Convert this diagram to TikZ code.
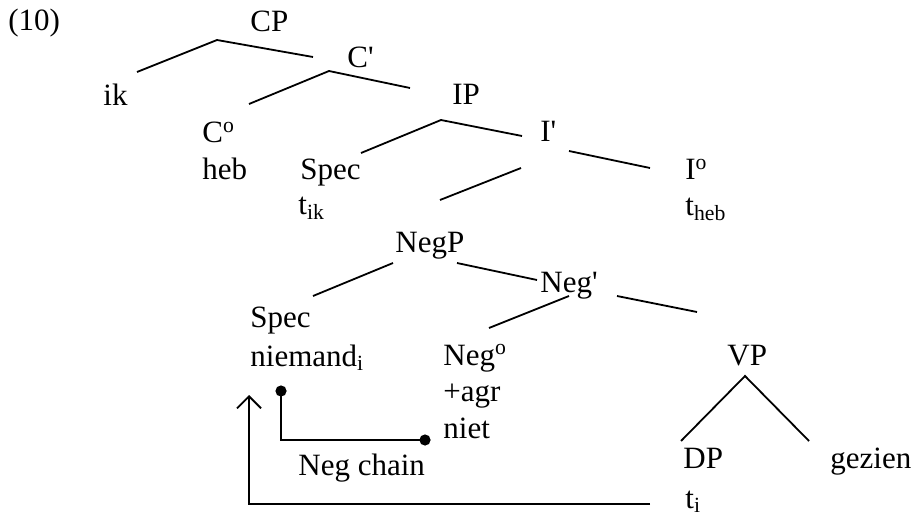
\documentclass[tikz,border=0pt]{standalone}
\usepackage{fontspec}
\setmainfont{Liberation Serif}
\usetikzlibrary{arrows.meta}
\newcommand{\barmark}{\textquotesingle}
\begin{document}
\begin{tikzpicture}
        [
            x=5pt, y=-5pt,
            word/.style={anchor=base west, inner sep=0pt, font=\fontsize{15.5}{18}\selectfont},
            branch/.style={line width=0.9pt},
            chaindot/.style={fill=black}
        ]
        \useasboundingbox (0,0) rectangle (91.4,51.8);
        \node[word] (ex) at (0.8,3.1) {(10)};
        % CP
        \node[word] (cp) at (25.0,3.2) {CP};
        \node[word] (ik) at (10.3,10.6) {ik};
        \coordinate (cpL) at (13.7,7.2);
        \coordinate (cpT) at (21.7,4.0);
        \coordinate (cpR) at (31.3,5.7);
        \draw[branch] (cpL) -- (cpT) -- (cpR);
        % C'
        \node[word] (cbar) at (34.7,6.8) {C\barmark};
        \node[word] (c0) at (20.2,14.3) {C\textsuperscript{o}};
        \node[word] (heb) at (20.2,18.0) {heb};
        \coordinate (cbL) at (24.9,10.4);
        \coordinate (cbT) at (32.9,7.1);
        \coordinate (cbR) at (41.0,8.8);
        \draw[branch] (cbL) -- (cbT) -- (cbR);
        % IP
        \node[word] (ip) at (45.2,10.5) {IP};
        \node[word] (specI) at (30.0,18.0) {Spec};
        \node[word] (tik) at (29.8,21.4) {t\textsubscript{ik}};
        \coordinate (ipL) at (36.1,15.3);
        \coordinate (ipT) at (44.1,12.0);
        \coordinate (ipR) at (52.2,13.6);
        \draw[branch] (ipL) -- (ipT) -- (ipR);
        % I'
        \node[word] (ibar) at (54.0,14.2) {I\barmark};
        \node[word] (i0) at (68.5,18.0) {I\textsuperscript{o}};
        \node[word] (theb) at (68.5,21.5) {t\textsubscript{heb}};
        \coordinate (ibL1) at (44.0,20.0);
        \coordinate (ibL2) at (52.1,16.8);
        \coordinate (ibR1) at (56.9,15.1);
        \coordinate (ibR2) at (65.0,16.8);
        \draw[branch] (ibL1) -- (ibL2);
        \draw[branch] (ibR1) -- (ibR2);
        % NegP
        \node[word] (negp) at (39.5,25.2) {NegP};
        \node[word] (specN) at (25.0,32.7) {Spec};
        \node[word] (niemand) at (25.0,36.6) {niemand\textsubscript{i}};
        \coordinate (npL1) at (31.3,29.6);
        \coordinate (npL2) at (39.3,26.3);
        \coordinate (npR1) at (45.7,26.3);
        \coordinate (npR2) at (53.7,28.0);
        \draw[branch] (npL1) -- (npL2);
        \draw[branch] (npR1) -- (npR2);
        % Neg'
        \node[word] (negbar) at (54.0,29.2) {Neg\barmark};
        \node[word] (neg0) at (44.3,36.5) {Neg\textsuperscript{o}};
        \node[word] (agr) at (44.3,40.1) {+agr};
        \node[word] (niet) at (44.3,43.8) {niet};
        \coordinate (nbL1) at (48.9,32.8);
        \coordinate (nbL2) at (56.9,29.6);
        \coordinate (nbR1) at (61.7,29.6);
        \coordinate (nbR2) at (69.7,31.2);
        \draw[branch] (nbL1) -- (nbL2);
        \draw[branch] (nbR1) -- (nbR2);
        % VP
        \node[word] (vp) at (72.7,36.5) {VP};
        \node[word] (dp) at (68.3,46.8) {DP};
        \node[word] (gezien) at (83.0,46.8) {gezien};
        \node[word] (ti) at (68.5,50.8) {t\textsubscript{i}};
        \coordinate (vpL) at (68.1,44.1);
        \coordinate (vpT) at (74.5,37.6);
        \coordinate (vpR) at (80.9,44.1);
        \draw[branch] (vpL) -- (vpT) -- (vpR);
        % Neg chain
        \node[word] (chain) at (29.8,47.5) {Neg chain};
        \coordinate (chA) at (28.1,39.1);
        \coordinate (chB) at (42.5,44.0);
        \draw[branch] (chA) |- (chB);
        \fill[chaindot] (chA) circle (2.8pt);
        \fill[chaindot] (chB) circle (2.8pt);
        % movement
        \coordinate (mvA) at (65.0,50.4);
        \coordinate (mvB) at (24.9,39.5);
        \draw[branch, -{Straight Barb[length=6pt, width=12pt]}] (mvA) -| (mvB);
\end{tikzpicture}
\end{document}
